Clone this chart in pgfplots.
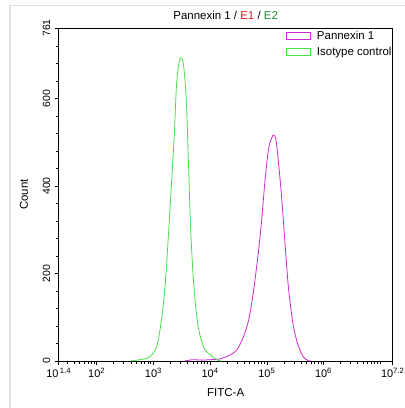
\documentclass[border=0pt]{standalone}
\usepackage{pgfplots}
\pgfplotsset{compat=1.18}
\usepackage{fontspec}
\setmainfont{Liberation Sans}
\definecolor{grn}{RGB}{70,225,70}
\definecolor{mag}{RGB}{210,40,210}
\definecolor{tred}{RGB}{220,30,30}
\definecolor{tgrn}{RGB}{30,140,50}
\begin{document}
\begin{tikzpicture}
\useasboundingbox (-58.7bp,-47bp) rectangle (346.3bp,361bp);
\draw[black!12, line width=1.5bp] (-48.7bp,-47bp) -- (-48.7bp,355.5bp) -- (346.3bp,355.5bp);
\begin{axis}[at={(0,0)}, anchor=south west, scale only axis, width=334bp, height=333bp,
 xmin=1.33, xmax=7.22, ymin=0, ymax=761,
 /pgf/number format/assume math mode=true,
 xtick={1.33,2,3,4,5,6,7.22},
 xticklabels={10\textsuperscript{\,1.4},10\textsuperscript{2},10\textsuperscript{3},10\textsuperscript{4},10\textsuperscript{5},10\textsuperscript{6},10\textsuperscript{7.2}},
 minor xtick={1.477,1.602,1.699,1.778,1.845,1.903,1.954,
  2.301,2.477,2.602,2.699,2.778,2.845,2.903,2.954,
  3.301,3.477,3.602,3.699,3.778,3.845,3.903,3.954,
  4.301,4.477,4.602,4.699,4.778,4.845,4.903,4.954,
  5.301,5.477,5.602,5.699,5.778,5.845,5.903,5.954,
  6.301,6.477,6.602,6.699,6.778,6.845,6.903,6.954,7},
 ytick={0,200,400,600,761},
 minor ytick={40,80,120,160,240,280,320,360,440,480,520,560,640,680,720},
 yticklabel style={rotate=90, anchor=south, xshift=0bp, yshift=1bp, font=\fontsize{10.5}{12}\selectfont},
 xticklabel style={font=\fontsize{11}{12}\selectfont},
 tick align=outside, tick pos=left,
 major tick length=4bp, minor tick length=2.5bp,
 tick style={black, line width=0.6bp},
 axis line style={line width=0.8bp},
 title={Pannexin 1 / \textcolor{tred}{E1} / \textcolor{tgrn}{E2}},
 title style={yshift=-1bp},
 xlabel={FITC-A}, ylabel={Count},
 xlabel style={yshift=-4bp},
 ylabel style={yshift=8bp},
 font=\fontsize{11.5}{13}\selectfont,
 legend style={draw=none, fill=none, at={(1,1)}, anchor=north east, xshift=2bp,
   font=\fontsize{11.5}{13}\selectfont, row sep=2bp, inner sep=1bp,
   /tikz/every odd column/.append style={column sep=4bp}},
 legend cell align=left,
 legend image code/.code={\draw[#1] (0bp,-3.5bp) rectangle (24bp,3.5bp);},
]
\addplot[mag, line width=0.8bp, smooth, tension=0.5] coordinates {
(3.55,0) (3.70,3) (3.85,2) (4.00,3) (4.18,5) (4.35,14) (4.47,25) (4.59,56) (4.68,94) (4.76,155)
(4.85,247) (4.91,323) (4.97,415) (5.03,484) (5.09,511) (5.12,516) (5.16,507) (5.20,461) (5.26,377)
(5.32,270) (5.38,170) (5.46,86) (5.54,41) (5.64,10) (5.73,1) (5.78,0)};
\addlegendentry{Pannexin 1}
\addplot[grn, line width=0.8bp, smooth, tension=0.5] coordinates {
(2.60,0) (2.71,2) (2.85,5) (2.94,10) (3.06,33) (3.15,101) (3.21,178) (3.26,277) (3.32,407) (3.37,522)
(3.41,636) (3.46,686) (3.49,692) (3.53,678) (3.58,598) (3.62,445) (3.66,293) (3.71,178) (3.78,86)
(3.88,33) (4.00,14) (4.08,6) (4.15,1) (4.20,0)};
\addlegendentry{Isotype control}
\end{axis}
\end{tikzpicture}
\end{document}
